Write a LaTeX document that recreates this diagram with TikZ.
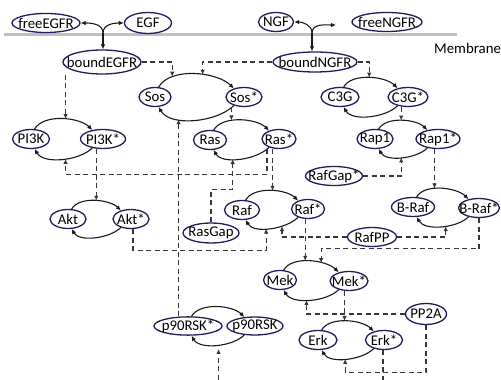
\documentclass[tikz,border=0pt]{standalone}
\usepackage{fontspec}
\setmainfont{Carlito}
\usetikzlibrary{shapes.geometric,arrows.meta}
\definecolor{navy}{RGB}{30,30,95}
\definecolor{linec}{RGB}{25,25,25}
\definecolor{dashc}{RGB}{55,55,55}
\definecolor{memc}{RGB}{192,192,192}
\newcommand\diagfont{\fontsize{14.8}{17}\selectfont}
\newcommand\mtxt[1]{\makebox[0pt]{#1}}
\begin{document}
\begin{tikzpicture}[x=1pt,y=1pt,
 mol/.style={ellipse, draw=navy, line width=1.3pt, fill=white, inner sep=0pt, minimum height=19pt, minimum width=#1, font=\diagfont},
 cyc/.style={draw=linec, line width=1.1pt, -{Latex[length=5pt,width=4.5pt]}, looseness=0.8},
 sol/.style={draw=linec, line width=1.1pt, -{Latex[length=5pt,width=4.5pt]}},
 dsh/.style={draw=dashc, line width=1.1pt, dash pattern=on 5pt off 3.5pt, -{Latex[length=5pt,width=4.5pt]}},
 cp/.style={coordinate}
]
\useasboundingbox (0,0) rectangle (501,380);
\fill[white] (0,0) rectangle (501,380);
% membrane
\draw[memc, line width=3pt] (4,345) -- (457,345);
\node[anchor=west, font=\diagfont, inner sep=0pt] (memlabel) at (434,332) {Membrane};
% nodes
\node[mol=68] (freeEGFR) at (46,357) {\mtxt{freeEGFR}};
\node[mol=47, minimum height=21pt] (EGF) at (148,357) {\mtxt{EGF}};
\node[mol=35] (NGF) at (276,358) {\mtxt{NGF}};
\node[mol=70] (freeNGFR) at (387,358) {\mtxt{freeNGFR}};
\node[mol=78, minimum height=24pt] (bEGFR) at (102,318) {\mtxt{boundEGFR}};
\node[mol=84, minimum height=20pt] (bNGFR) at (315,318) {\mtxt{boundNGFR}};
\node[mol=32] (Sos) at (155,283) {\mtxt{Sos}};
\node[mol=36] (Soss) at (244,283) {\mtxt{Sos*}};
\node[mol=38] (C3G) at (340,283) {\mtxt{C3G}};
\node[mol=40] (C3Gs) at (408,283) {\mtxt{C3G*}};
\node[mol=37] (PI3K) at (31,241) {\mtxt{PI3K}};
\node[mol=45] (PI3Ks) at (103,241) {\mtxt{PI3K*}};
\node[mol=33] (Ras) at (210,240) {\mtxt{Ras}};
\node[mol=34] (Rass) at (279,241) {\mtxt{Ras*}};
\node[mol=36] (Rap1) at (375,241) {\mtxt{Rap1}};
\node[mol=44] (Rap1s) at (438,241) {\mtxt{Rap1*}};
\node[mol=57] (RafGap) at (334,204) {\mtxt{RafGap*}};
\node[mol=36] (Akt) at (68,161) {\mtxt{Akt}};
\node[mol=36] (Akts) at (131,161) {\mtxt{Akt*}};
\node[mol=56, minimum height=20pt] (RasGap) at (211,147) {\mtxt{RasGap}};
\node[mol=35] (Raf) at (242,170) {\mtxt{Raf}};
\node[mol=33] (Rafs) at (308,171) {\mtxt{Raf*}};
\node[mol=43] (BRaf) at (413,173) {\mtxt{B-Raf}};
\node[mol=41] (BRafs) at (479,172) {\mtxt{B-Raf*}};
\node[mol=49] (RafPP) at (372,143) {\mtxt{RafPP}};
\node[mol=33] (Mek) at (280,100) {\mtxt{Mek}};
\node[mol=38] (Meks) at (349,99) {\mtxt{Mek*}};
\node[mol=41, minimum height=21pt] (PP2A) at (426,66) {\mtxt{PP2A}};
\node[mol=38] (Erk) at (318,40) {\mtxt{Erk}};
\node[mol=37] (Erks) at (384,40) {\mtxt{Erk*}};
\node[mol=68, minimum height=18pt] (p90s) at (188,54) {\mtxt{p90RSK*}};
\node[mol=56, minimum height=18pt] (p90) at (255,54) {\mtxt{p90RSK}};
% receptor junctions
\coordinate (J1) at (103,347);
\draw[sol] (J1) to[out=90,in=0] (freeEGFR.east);
\draw[sol] (J1) to[out=90,in=180] (EGF.west);
\draw[sol] (J1) -- (J1 |- bEGFR.north);
\coordinate (J2) at (312,347);
\coordinate (NGFout) at (336,355);
\draw[sol] (J2) to[out=90,in=0] (NGF.east);
\draw[sol] (J2) to[out=90,in=180] (NGFout);
\draw[sol] (J2) -- (J2 |- bNGFR.north);
% cycles
\draw[cyc] (Sos.70) to[out=60,in=135] node[cp,pos=.24](SosT1){} node[cp,pos=.59](SosT2){} (Soss.140);
\draw[cyc] (Soss.220) to[out=-135,in=-60] node[cp,pos=.68](SosB){} (Sos.290);
\draw[cyc] (C3G.70) to[out=60,in=135] node[cp,pos=.5](C3GT){} (C3Gs.140);
\draw[cyc] (C3Gs.220) to[out=-135,in=-60] (C3G.290);
\draw[cyc] (PI3K.70) to[out=60,in=135] node[cp,pos=.55](PI3KT){} (PI3Ks.140);
\draw[cyc] (PI3Ks.220) to[out=-135,in=-60] node[cp,pos=.45](PI3KB){} (PI3K.290);
\draw[cyc] (Ras.70) to[out=60,in=135] node[cp,pos=.37](RasT){} (Rass.140);
\draw[cyc] (Rass.220) to[out=-135,in=-60] node[cp,pos=.61](RasB){} (Ras.290);
\draw[cyc] (Rap1.70) to[out=60,in=135] node[cp,pos=.49](Rap1T){} (Rap1s.140);
\draw[cyc] (Rap1s.220) to[out=-135,in=-60] node[cp,pos=.51](Rap1B){} (Rap1.290);
\draw[cyc] (Akt.70) to[out=60,in=135] node[cp,pos=.52](AktT){} (Akts.140);
\draw[cyc] (Akts.220) to[out=-135,in=-60] (Akt.290);
\draw[cyc] (Raf.70) to[out=60,in=135] node[cp,pos=.53](RafT){} (Rafs.140);
\draw[cyc] (Rafs.220) to[out=-135,in=-60] node[cp,pos=.57](RafB1){} node[cp,pos=.32](RafB2){} (Raf.290);
\draw[cyc] (BRaf.70) to[out=60,in=135] node[cp,pos=.39](BRafT){} (BRafs.140);
\draw[cyc] (BRafs.220) to[out=-135,in=-60] node[cp,pos=.43](BRafB){} (BRaf.290);
\draw[cyc] (Mek.70) to[out=60,in=135] node[cp,pos=.43](MekT1){} node[cp,pos=.67](MekT2){} (Meks.140);
\draw[cyc] (Meks.220) to[out=-135,in=-60] node[cp,pos=.55](MekB){} (Mek.290);
\draw[cyc] (Erk.70) to[out=60,in=135] node[cp,pos=.47](ErkT){} (Erks.140);
\draw[cyc] (Erks.220) to[out=-135,in=-60] node[cp,pos=.52](ErkB){} (Erk.290);
\draw[cyc] (p90s.70) to[out=60,in=135] (p90.140);
\draw[cyc] (p90.220) to[out=-135,in=-60] node[cp,pos=.47](p90B){} (p90s.290);
% dashed influences
\draw[dsh] (bEGFR.east) -| (SosT1);
\draw[dsh] (bNGFR.west) -| (SosT2);
\draw[dsh] (bNGFR.east) -| (C3GT);
\draw[dsh] (PI3KT |- bEGFR.south) -- (PI3KT);
\draw[dsh] (RasT |- Soss.south) -- (RasT);
\draw[dsh] (Rap1T |- C3Gs.south) -- (Rap1T);
\draw[dsh] (AktT |- PI3Ks.south) -- (AktT);
\draw[dsh] ([xshift=-12pt]Rass.south) -- ++(0,-25) -| (PI3KB);
\draw[dsh] (RafT |- Rass.south) -- (RafT);
\draw[dsh] (RasGap.north) -- ++(0,33) -| (RasB);
\draw[dsh] ([xshift=2pt]Akts.south) -- ++(0,-21) -| (RafB1);
\draw[dsh] (SosB |- p90s.north) -- (SosB);
\draw[dsh] (BRafT |- Rap1s.south) -- (BRafT);
\draw[dsh] (RafGap.east) -| (Rap1B);
\draw[dsh] (RafPP.west) -| (RafB2);
\draw[dsh] (RafPP.east) -| (BRafB);
\draw[dsh] (MekT1 |- Rafs.south) -- (MekT1);
\draw[dsh] (BRafs.south) -- ++(0,-30.5) -| (MekT2);
\draw[dsh] (ErkT |- Meks.south) -- (ErkT);
\draw[dsh] (PP2A.west) -| (MekB);
\draw[dsh] (PP2A.south) -- ++(0,-47) -| (ErkB);
\coordinate (ErkOut) at (383,0);
\draw[dsh,-] (ErkOut |- Erks.south) -- (ErkOut);
\coordinate (p90In) at (220,0);
\draw[dsh, shorten >=4pt] (p90B |- p90In) -- (p90B);
\end{tikzpicture}
\end{document}
